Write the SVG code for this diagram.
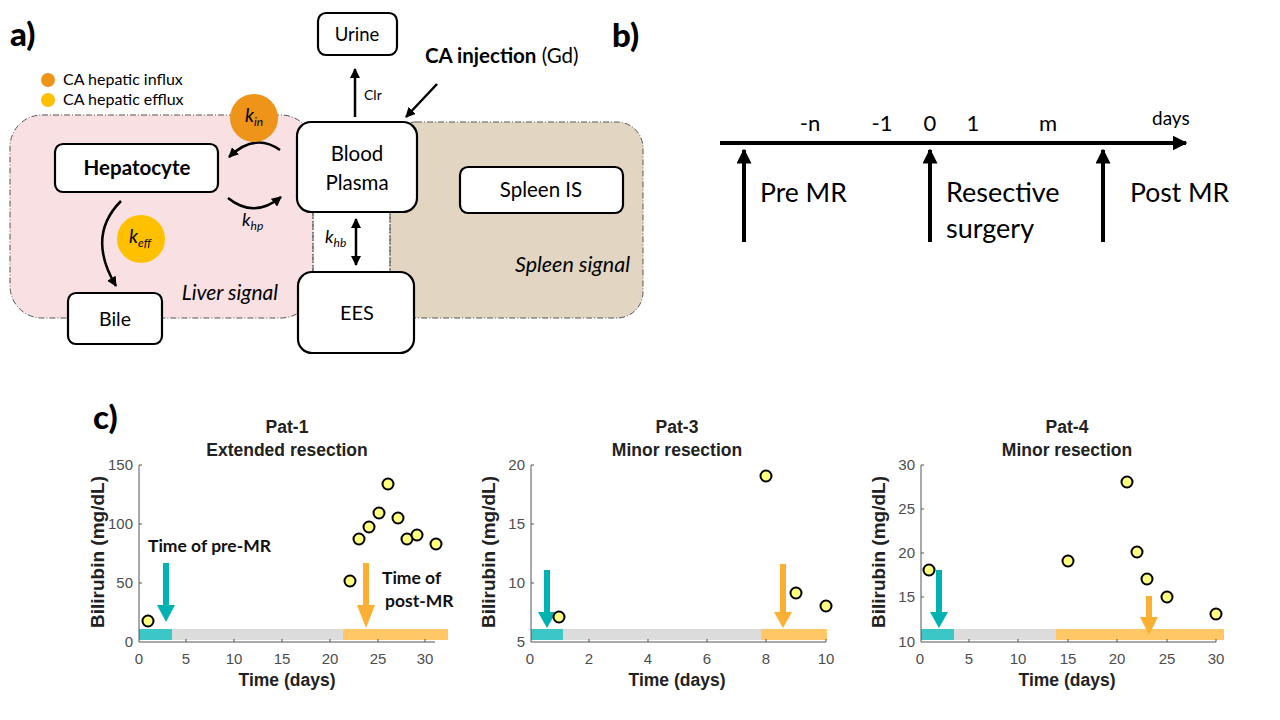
<svg xmlns="http://www.w3.org/2000/svg" width="1280" height="720" viewBox="0 0 1280 720">
<style>
.panel{font-family:"Lato","Liberation Sans",sans-serif;font-weight:900;font-size:33px;fill:#000}
.t{font-family:"Lato","Liberation Sans",sans-serif;fill:#000}
.box{fill:#fff;stroke:#000;stroke-width:2.2}
.reg{stroke:#555;stroke-width:1;stroke-dasharray:6 2 1 2}
.ln{fill:none;stroke:#000;stroke-width:2.5}
.tl{fill:none;stroke:#000;stroke-width:4}
.ax{stroke:#555;stroke-width:1;fill:none}
.tk{font-family:"Liberation Sans",Arial,sans-serif;font-size:15px;fill:#4d4d4d}
.pt{font-family:"Liberation Sans",Arial,sans-serif;font-size:17.5px;font-weight:bold;fill:#222;text-anchor:middle}
.yl{font-family:"Liberation Sans",Arial,sans-serif;font-size:19px;font-weight:bold;fill:#222;text-anchor:middle}
.dot{fill:#ffff80;stroke:#000;stroke-width:2}
.ann{font-family:"Lato","Liberation Sans",sans-serif;font-size:17.5px;font-weight:bold;fill:#111}
</style>
<defs>
<marker id="ah" viewBox="0 0 10 10" refX="9" refY="5" markerWidth="10" markerHeight="10" markerUnits="userSpaceOnUse" orient="auto-start-reverse"><path d="M0,0 L10,5 L0,10 z" fill="#000"/></marker>
<marker id="ahb" viewBox="0 0 10 10" refX="9" refY="5" markerWidth="15" markerHeight="15" markerUnits="userSpaceOnUse" orient="auto"><path d="M0,0 L10,5 L0,10 z" fill="#000"/></marker>
</defs>

<!-- Panel a -->
<text class="panel" x="10" y="46">a)</text>
<g id="legend">
<circle cx="48" cy="80" r="7" fill="#ED9419"/>
<text class="t" x="63" y="85" font-size="16">CA hepatic influx</text>
<circle cx="48" cy="100" r="7" fill="#FFC000"/>
<text class="t" x="63" y="105" font-size="16">CA hepatic efflux</text>
</g>
<g id="liver-region">
<rect class="reg" x="10" y="115" width="303" height="203" rx="32" fill="#F9E1E3"/>
<text class="t" x="278" y="300" font-size="21" font-style="italic" text-anchor="end">Liver signal</text>
</g>
<g id="spleen-region">
<rect class="reg" x="390" y="122" width="253" height="196" rx="26" fill="#E2D6C2"/>
<text class="t" x="630" y="272" font-size="21.5" font-style="italic" text-anchor="end">Spleen signal</text>
</g>

<g id="connectors">
<line class="ln" x1="355" y1="117" x2="355" y2="69" marker-end="url(#ah)"/>
<line class="ln" x1="437" y1="84" x2="406" y2="117" marker-end="url(#ah)"/>
<path class="ln" d="M280,150 Q255,132 229,157" marker-end="url(#ah)"/>
<path class="ln" d="M228,198 Q254,219 281,197" marker-end="url(#ah)"/>
<path class="ln" d="M121,201 Q86,236 116,286" marker-end="url(#ah)"/>
<line class="ln" x1="356" y1="219" x2="356" y2="265" marker-start="url(#ah)" marker-end="url(#ah)"/>
<line x1="313" y1="213" x2="313" y2="272" stroke="#555" stroke-width="1" stroke-dasharray="6 2 1 2"/>
<line x1="390" y1="213" x2="390" y2="272" stroke="#555" stroke-width="1" stroke-dasharray="6 2 1 2"/>
</g>

<g id="urine"><rect class="box" x="318" y="13" width="79" height="42" rx="8"/><text class="t" x="357" y="41" font-size="18.5" text-anchor="middle">Urine</text></g>
<g id="blood-plasma"><rect class="box" x="297" y="122" width="120" height="90" rx="14"/><text class="t" x="357" y="161" font-size="20.5" text-anchor="middle">Blood</text><text class="t" x="357" y="190" font-size="20.5" text-anchor="middle">Plasma</text></g>
<g id="ees"><rect class="box" x="298" y="272" width="116" height="81" rx="14"/><text class="t" x="357" y="320" font-size="20" text-anchor="middle">EES</text></g>
<g id="spleen-is"><rect class="box" x="460" y="167" width="163" height="46" rx="8"/><text class="t" x="541" y="197" font-size="20.5" text-anchor="middle">Spleen IS</text></g>
<g id="hepatocyte"><rect class="box" x="55" y="144" width="163" height="48" rx="8"/><text class="t" x="137" y="175" font-size="20.5" font-weight="bold" text-anchor="middle">Hepatocyte</text></g>
<g id="bile"><rect class="box" x="68" y="293" width="94" height="51" rx="8"/><text class="t" x="115" y="326" font-size="19.5" text-anchor="middle">Bile</text></g>

<g id="labels-a">
<text class="t" x="364" y="100" font-size="14">Clr</text>
<text class="t" x="425" y="63" font-size="20.5"><tspan font-weight="bold">CA injection</tspan> (Gd)</text>
<text class="t" x="242" y="226" font-size="18" font-style="italic">k<tspan font-size="12" dy="4">hp</tspan></text>
<text class="t" x="325" y="243" font-size="18" font-style="italic">k<tspan font-size="12" dy="4">hb</tspan></text>
</g>
<g id="k-in"><circle cx="254" cy="118" r="24" fill="#ED9419"/><text class="t" x="245" y="122" font-size="19" font-style="italic">k<tspan font-size="12" dy="4">in</tspan></text></g>
<g id="k-eff"><circle cx="141" cy="239" r="24" fill="#FFC000"/><text class="t" x="129" y="243" font-size="19" font-style="italic">k<tspan font-size="12" dy="4">eff</tspan></text></g>

<!-- Panel b -->
<text class="panel" x="612" y="47">b)</text>
<g id="timeline">
<line class="tl" x1="720" y1="143" x2="1186" y2="143" marker-end="url(#ahb)"/>
<line class="tl" x1="744" y1="242" x2="744" y2="150" marker-end="url(#ahb)"/>
<line class="tl" x1="930" y1="242" x2="930" y2="150" marker-end="url(#ahb)"/>
<line class="tl" x1="1103" y1="242" x2="1103" y2="150" marker-end="url(#ahb)"/>
</g>
<g id="timeline-labels" font-family="Lato,'Liberation Sans',sans-serif">
<text x="810" y="131" font-size="22" text-anchor="middle">-n</text>
<text x="882" y="131" font-size="22" text-anchor="middle">-1</text>
<text x="930" y="131" font-size="22" text-anchor="middle">0</text>
<text x="973" y="131" font-size="22" text-anchor="middle">1</text>
<text x="1048" y="131" font-size="22" text-anchor="middle">m</text>
<text x="1152" y="125" font-size="19">days</text>
<text x="760" y="202" font-size="26.5">Pre MR</text>
<text x="946" y="202" font-size="27">Resective</text>
<text x="946" y="238" font-size="27">surgery</text>
<text x="1130" y="202" font-size="26.5">Post MR</text>
</g>

<!-- Panel c -->
<text class="panel" x="93" y="429">c)</text>

<g id="plot-pat1">
<text class="pt" x="287" y="433">Pat-1</text>
<text class="pt" x="287" y="456">Extended resection</text>
<rect x="139" y="629" width="33" height="11" fill="#3CC6C6"/>
<rect x="172" y="629" width="171" height="11" fill="#DCDCDC"/>
<rect x="343" y="629" width="105" height="11" fill="#FFC765"/>
<path class="ax" d="M139,465 V642 H435"/>
<path class="ax" d="M139,583 h3 M139,524 h3 M139,465 h3 M186,642 v-3 M234,642 v-3 M282,642 v-3 M330,642 v-3 M378,642 v-3 M425,642 v-3"/>
<g class="tk" text-anchor="end"><text x="133" y="647">0</text><text x="133" y="588">50</text><text x="133" y="529">100</text><text x="133" y="470">150</text></g>
<g class="tk" text-anchor="middle"><text x="139" y="664">0</text><text x="186" y="664">5</text><text x="234" y="664">10</text><text x="282" y="664">15</text><text x="330" y="664">20</text><text x="378" y="664">25</text><text x="425" y="664">30</text></g>
<text class="pt" x="287" y="686">Time (days)</text>
<text class="yl" transform="translate(104,552) rotate(-90)">Bilirubin (mg/dL)</text>
<g fill="#00B2B2"><rect x="163" y="563" width="6" height="43"/><polygon points="157,605 175,605 166,622"/></g>
<g fill="#FBB034"><rect x="363" y="563" width="6" height="43"/><polygon points="357,605 375,605 366,628"/></g>
<text class="ann" x="148" y="552">Time of pre-MR</text>
<text class="ann" x="382" y="584">Time of</text>
<text class="ann" x="385" y="607">post-MR</text>
<g>
<circle class="dot" cx="148" cy="621" r="5.5"/><circle class="dot" cx="350" cy="581" r="5.5"/><circle class="dot" cx="359" cy="539" r="5.5"/><circle class="dot" cx="369" cy="527" r="5.5"/><circle class="dot" cx="379" cy="513" r="5.5"/><circle class="dot" cx="388" cy="484" r="5.5"/><circle class="dot" cx="398" cy="518" r="5.5"/><circle class="dot" cx="407" cy="539" r="5.5"/><circle class="dot" cx="417" cy="535" r="5.5"/><circle class="dot" cx="436" cy="544" r="5.5"/>
</g>
</g>

<g id="plot-pat3">
<text class="pt" x="677" y="433">Pat-3</text>
<text class="pt" x="677" y="456">Minor resection</text>
<rect x="531" y="629" width="32" height="11" fill="#3CC6C6"/>
<rect x="563" y="629" width="198" height="11" fill="#DCDCDC"/>
<rect x="761" y="629" width="66" height="11" fill="#FFC765"/>
<path class="ax" d="M531,465 V642 H826"/>
<path class="ax" d="M531,583 h3 M531,524 h3 M531,465 h3 M589,642 v-3 M648,642 v-3 M707,642 v-3 M766,642 v-3 M826,642 v-3"/>
<g class="tk" text-anchor="end"><text x="525" y="647">5</text><text x="525" y="588">10</text><text x="525" y="529">15</text><text x="525" y="470">20</text></g>
<g class="tk" text-anchor="middle"><text x="530" y="664">0</text><text x="589" y="664">2</text><text x="648" y="664">4</text><text x="707" y="664">6</text><text x="766" y="664">8</text><text x="826" y="664">10</text></g>
<text class="pt" x="677" y="686">Time (days)</text>
<text class="yl" transform="translate(495,552) rotate(-90)">Bilirubin (mg/dL)</text>
<g fill="#00B2B2"><rect x="544" y="570" width="6" height="43"/><polygon points="538,612 556,612 547,628"/></g>
<g fill="#FBB034"><rect x="780" y="564" width="6" height="49"/><polygon points="774,612 792,612 783,628"/></g>
<circle class="dot" cx="559" cy="617" r="5.5"/><circle class="dot" cx="766" cy="476" r="5.5"/><circle class="dot" cx="796" cy="593" r="5.5"/><circle class="dot" cx="826" cy="606" r="5.5"/>
</g>

<g id="plot-pat4">
<text class="pt" x="1067" y="433">Pat-4</text>
<text class="pt" x="1067" y="456">Minor resection</text>
<rect x="921" y="629" width="33" height="11" fill="#3CC6C6"/>
<rect x="954" y="629" width="102" height="11" fill="#DCDCDC"/>
<rect x="1056" y="629" width="168" height="11" fill="#FFC765"/>
<path class="ax" d="M921,465 V642 H1216"/>
<path class="ax" d="M921,597 h3 M921,553 h3 M921,509 h3 M921,465 h3 M969,642 v-3 M1018,642 v-3 M1068,642 v-3 M1117,642 v-3 M1167,642 v-3 M1216,642 v-3"/>
<g class="tk" text-anchor="end"><text x="915" y="647">10</text><text x="915" y="602">15</text><text x="915" y="558">20</text><text x="915" y="514">25</text><text x="915" y="470">30</text></g>
<g class="tk" text-anchor="middle"><text x="920" y="664">0</text><text x="969" y="664">5</text><text x="1018" y="664">10</text><text x="1068" y="664">15</text><text x="1117" y="664">20</text><text x="1167" y="664">25</text><text x="1216" y="664">30</text></g>
<text class="pt" x="1067" y="686">Time (days)</text>
<text class="yl" transform="translate(885,552) rotate(-90)">Bilirubin (mg/dL)</text>
<g fill="#00B2B2"><rect x="936" y="570" width="6" height="43"/><polygon points="930,612 948,612 939,628"/></g>
<g fill="#FBB034"><rect x="1146" y="596" width="6" height="22"/><polygon points="1140,617 1158,617 1149,635"/></g>
<circle class="dot" cx="929" cy="570" r="5.5"/><circle class="dot" cx="1068" cy="561" r="5.5"/><circle class="dot" cx="1127" cy="482" r="5.5"/><circle class="dot" cx="1137" cy="552" r="5.5"/><circle class="dot" cx="1147" cy="579" r="5.5"/><circle class="dot" cx="1167" cy="597" r="5.5"/><circle class="dot" cx="1216" cy="614" r="5.5"/>
</g>
</svg>
